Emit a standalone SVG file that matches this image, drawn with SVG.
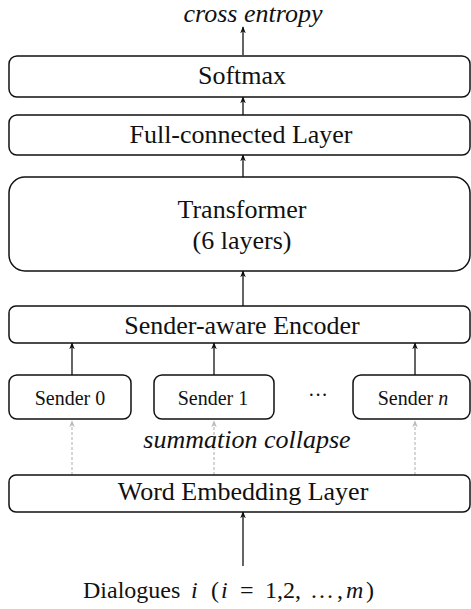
<svg xmlns="http://www.w3.org/2000/svg" width="471" height="609" viewBox="0 0 471 609">
<style>
.box{fill:#fff;stroke:#111;stroke-width:1.5}
.t{font-family:"Liberation Serif","Times New Roman",serif;fill:#111;text-anchor:middle}
.big{font-size:26px}
.sm{font-size:20px}
.it{font-style:italic}
.c{stroke:#111;stroke-width:1.3;fill:none}
.d{stroke:#bbb;stroke-width:1.2;fill:none;stroke-dasharray:3 2}
</style>
<defs>
<marker id="ah" viewBox="0 0 10 10" refX="9" refY="5" markerWidth="7" markerHeight="7" orient="auto" markerUnits="userSpaceOnUse">
<path d="M0,1 L10,5 L0,9 L3,5 Z" fill="#111"/>
</marker>
<marker id="ahg" viewBox="0 0 10 10" refX="9" refY="5" markerWidth="7" markerHeight="7" orient="auto" markerUnits="userSpaceOnUse">
<path d="M0,1 L10,5 L0,9 L3,5 Z" fill="#bbb"/>
</marker>
</defs>
<g id="connectors">
<line class="c" x1="243" y1="55" x2="243" y2="27" marker-end="url(#ah)"/>
<line class="c" x1="243" y1="115" x2="243" y2="97" marker-end="url(#ah)"/>
<line class="c" x1="243" y1="177" x2="243" y2="155" marker-end="url(#ah)"/>
<line class="c" x1="243" y1="306" x2="243" y2="271" marker-end="url(#ah)"/>
<line class="c" x1="72" y1="375" x2="72" y2="343" marker-end="url(#ah)"/>
<line class="c" x1="214" y1="375" x2="214" y2="343" marker-end="url(#ah)"/>
<line class="c" x1="415" y1="375" x2="415" y2="343" marker-end="url(#ah)"/>
<line class="d" x1="72" y1="475" x2="72" y2="421" marker-end="url(#ahg)"/>
<line class="d" x1="214" y1="475" x2="214" y2="421" marker-end="url(#ahg)"/>
<line class="d" x1="415" y1="475" x2="415" y2="421" marker-end="url(#ahg)"/>
<line class="c" x1="243" y1="566" x2="243" y2="512" marker-end="url(#ah)"/>
</g>
<g id="cross-entropy"><text class="t big it" x="253" y="22">cross entropy</text></g>
<g id="softmax"><rect class="box" x="9" y="56" width="461" height="41" rx="8"/><text class="t big" x="242" y="84">Softmax</text></g>
<g id="fc"><rect class="box" x="9" y="115" width="461" height="40" rx="8"/><text class="t big" x="241" y="143">Full-connected Layer</text></g>
<g id="transformer"><rect class="box" x="9" y="177" width="461" height="94" rx="16"/><text class="t big" x="242" y="218">Transformer</text><text class="t big" x="242" y="249">(6 layers)</text></g>
<g id="encoder"><rect class="box" x="9" y="306" width="461" height="37" rx="7"/><text class="t big" x="242" y="334">Sender-aware Encoder</text></g>
<g id="sender0"><rect class="box" x="9" y="375" width="122" height="44" rx="8"/><text class="t sm" x="70" y="405">Sender 0</text></g>
<g id="sender1"><rect class="box" x="154" y="375" width="120" height="44" rx="8"/><text class="t sm" x="213" y="405">Sender 1</text></g>
<g id="dots"><text class="t sm" x="318" y="402">···</text></g>
<g id="sendern"><rect class="box" x="353" y="375" width="117" height="44" rx="8"/><text class="t sm" x="413" y="405">Sender <tspan class="it">n</tspan></text></g>
<g id="summation"><text class="t big it" x="247" y="448">summation collapse</text></g>
<g id="embedding"><rect class="box" x="9" y="475" width="461" height="37" rx="7"/><text class="t big" x="243" y="500">Word Embedding Layer</text></g>
<g id="dialogues"><text class="t" style="font-size:24px;text-anchor:start" y="598"><tspan x="83">Dialogues</tspan><tspan class="it" x="191">i</tspan><tspan x="211">(</tspan><tspan class="it" x="221">i</tspan><tspan x="240">=</tspan><tspan x="265">1,2,</tspan><tspan x="310">…</tspan><tspan x="337">,</tspan><tspan class="it" x="346">m</tspan><tspan x="366">)</tspan></text></g>
</svg>
